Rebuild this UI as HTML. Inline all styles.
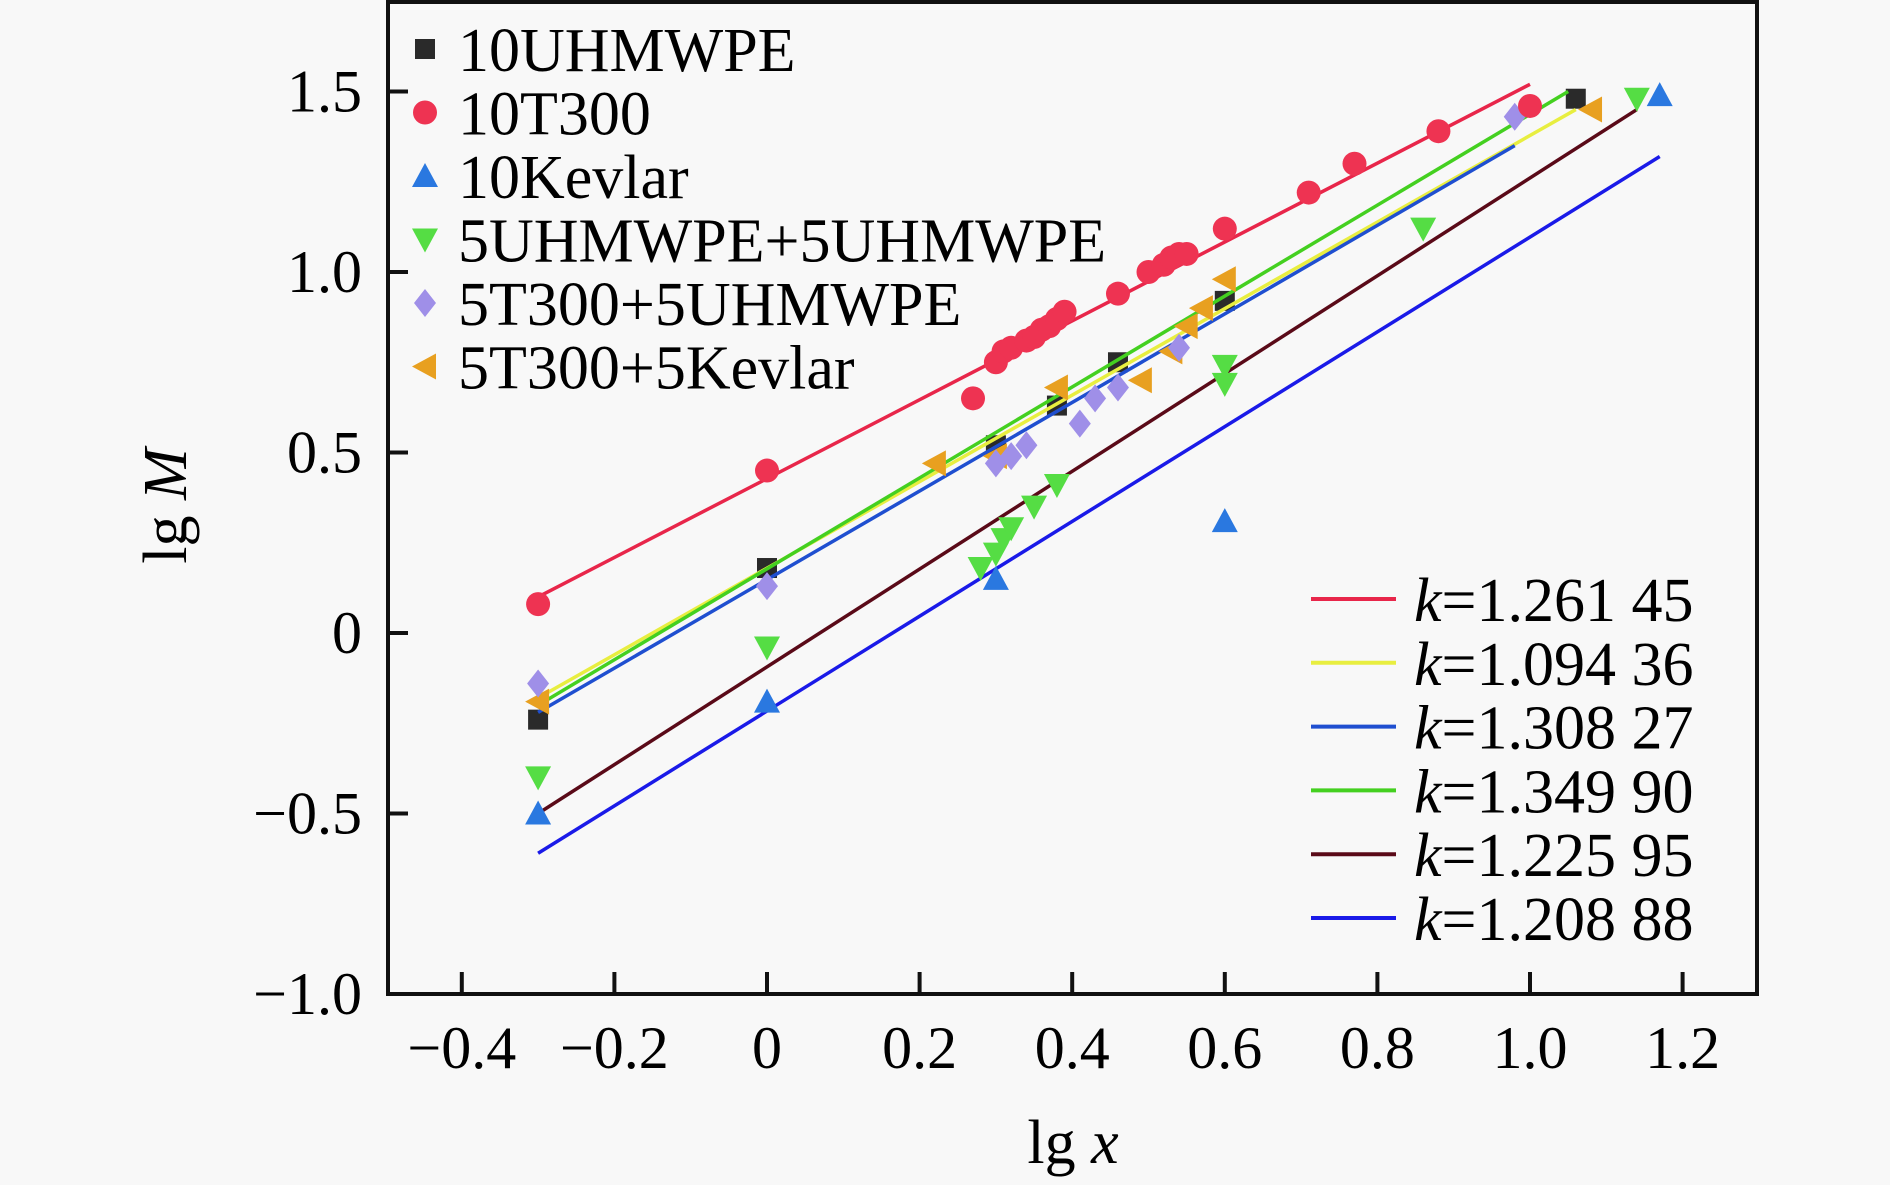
<!DOCTYPE html>
<html><head><meta charset="utf-8"><style>
html,body{margin:0;padding:0;background:#f8f8f8;}
svg{display:block;font-family:"Liberation Serif",serif;}
</style></head><body>
<svg id="chart" width="1890" height="1185" viewBox="0 0 1890 1185" xmlns="http://www.w3.org/2000/svg">
<rect x="0" y="0" width="1890" height="1185" fill="#f8f8f8"/>
<g id="plot"></g>
<rect x="388" y="2" width="1369" height="992" fill="none" stroke="#111" stroke-width="4"/>
<g id="axes"></g>
<text x="1073" y="1163" font-size="62" text-anchor="middle">lg <tspan font-style="italic">x</tspan></text>
<text transform="translate(186,506) rotate(-90)" font-size="62" text-anchor="middle">lg <tspan font-style="italic">M</tspan></text>
<g id="legend"></g>
<g id="klegend"></g>
</svg>
<script>
const xTicks = [-0.4,-0.2,0,0.2,0.4,0.6,0.8,1.0,1.2];
const xTickLabels = ["\u22120.4","\u22120.2","0","0.2","0.4","0.6","0.8","1.0","1.2"];
const yTicks = [-1.0,-0.5,0,0.5,1.0,1.5];
const yTickLabels = ["\u22121.0","\u22120.5","0","0.5","1.0","1.5"];
const seriesNames = ["10UHMWPE","10T300","10Kevlar","5UHMWPE+5UHMWPE","5T300+5UHMWPE","5T300+5Kevlar"];
const s0x=[-0.3,0,0.3,0.38,0.46,0.6,1.06];
const s0y=[-0.24,0.18,0.52,0.63,0.75,0.92,1.48];
const s1x=[-0.3,0,0.27,0.3,0.31,0.32,0.34,0.35,0.36,0.37,0.38,0.39,0.46,0.5,0.52,0.53,0.54,0.55,0.6,0.71,0.77,0.88,1.0];
const s1y=[0.08,0.45,0.65,0.75,0.78,0.79,0.81,0.82,0.84,0.85,0.87,0.89,0.94,1.0,1.02,1.04,1.05,1.05,1.12,1.22,1.3,1.39,1.46];
const s2x=[-0.3,0,0.3,0.6,1.17];
const s2y=[-0.5,-0.19,0.15,0.31,1.49];
const s3x=[-0.3,0,0.28,0.3,0.31,0.32,0.35,0.38,0.6,0.6,0.86,1.14];
const s3y=[-0.4,-0.04,0.18,0.22,0.26,0.29,0.35,0.41,0.74,0.69,1.12,1.48];
const s4x=[-0.3,0,0.3,0.32,0.34,0.41,0.43,0.46,0.54,0.98];
const s4y=[-0.14,0.13,0.47,0.49,0.52,0.58,0.65,0.68,0.79,1.43];
const s5x=[-0.3,0.22,0.3,0.38,0.49,0.53,0.55,0.57,0.6,1.08];
const s5y=[-0.19,0.47,0.49,0.68,0.7,0.78,0.85,0.9,0.98,1.45];
const fitLabels=["1.261 45","1.094 36","1.308 27","1.349 90","1.225 95","1.208 88"];
const fitX0=[-0.3,-0.3,-0.3,-0.3,-0.3,-0.3];
const fitY0=[0.1,-0.18,-0.22,-0.2,-0.5,-0.61];
const fitX1=[1.0,1.06,0.98,1.05,1.14,1.17];
const fitY1=[1.52,1.45,1.35,1.5,1.45,1.32];

const NS="http://www.w3.org/2000/svg";
const X=v=>767+v*763;
const Y=v=>994-(v+1)*361;
function mk(tag,attrs,parent){const e=document.createElementNS(NS,tag);for(const k in attrs)e.setAttribute(k,attrs[k]);parent.appendChild(e);return e;}
const axes=document.getElementById('axes'), plot=document.getElementById('plot');
xTicks.forEach((t,i)=>{
  const l=mk('line',{x1:X(t),x2:X(t),y1:994,y2:972,stroke:'#111','stroke-width':4},axes);
  
  
  const tx=mk('text',{x:X(t),y:1068,'font-size':60,'text-anchor':'middle'},axes);
  tx.textContent=xTickLabels[i];
  
  
});
yTicks.forEach((t,i)=>{
  const l=mk('line',{x1:388,x2:408,y1:Y(t),y2:Y(t),stroke:'#111','stroke-width':4},axes);
  
  
  const tx=mk('text',{x:362,y:Y(t)+20,'font-size':60,'text-anchor':'end'},axes);
  tx.textContent=yTickLabels[i];
  
  
});
const lineColors=['#e8264a','#e8ee40','#1f4fd0','#44d020','#5a0a18','#1a1ae8'];
const mColors=['#2a2a2a','#ee3352','#2a78e0','#55dd44','#9f8fe8','#e8a020'];
function marker(type,cx,cy,c,parent,r){
  r=r||11;let e;
  if(type==0) e=mk('rect',{x:cx-r+1,y:cy-r+1,width:2*r-2,height:2*r-2,fill:c},parent);
  else if(type==1) e=mk('circle',{cx:cx,cy:cy,r:r+1,fill:c},parent);
  else if(type==2) e=mk('polygon',{points:`${cx},${cy-r-2} ${cx+r+2},${cy+r} ${cx-r-2},${cy+r}`,fill:c},parent);
  else if(type==3) e=mk('polygon',{points:`${cx},${cy+r+2} ${cx+r+2},${cy-r} ${cx-r-2},${cy-r}`,fill:c},parent);
  else if(type==4) e=mk('polygon',{points:`${cx},${cy-r-3} ${cx+r},${cy} ${cx},${cy+r+3} ${cx-r},${cy}`,fill:c},parent);
  else e=mk('polygon',{points:`${cx-r-2},${cy} ${cx+r},${cy-r-2} ${cx+r},${cy+r+2}`,fill:c},parent);
  return e;
}
const SX=[s0x,s1x,s2x,s3x,s4x,s5x], SY=[s0y,s1y,s2y,s3y,s4y,s5y];
SX[0].forEach((v,j)=>{
  const e=marker(0,X(v),Y(SY[0][j]),mColors[0],plot);
  
  
});
fitLabels.forEach((k,i)=>{
  const l=mk('line',{x1:X(fitX0[i]),y1:Y(fitY0[i]),x2:X(fitX1[i]),y2:Y(fitY1[i]),stroke:lineColors[i],'stroke-width':3.5},plot);
  
  
});
[5,4,3,2,1].forEach(s=>{
  SX[s].forEach((v,j)=>{
    const e=marker(s,X(v),Y(SY[s][j]),mColors[s],plot);
    
    
  });
});
const leg=document.getElementById('legend');
seriesNames.forEach((n,i)=>{
  const cy=49+i*63.5;
  const m=marker(i,425,cy,mColors[i],leg,11);
  
  
  const t=mk('text',{x:458,y:cy+22,'font-size':62},leg);
  t.textContent=n;
  
  
});
const kl=document.getElementById('klegend');
fitLabels.forEach((k,i)=>{
  const cy=599+i*63.8;
  const l=mk('line',{x1:1311,x2:1396,y1:cy,y2:cy,stroke:lineColors[i],'stroke-width':4},kl);
  
  
  const t=mk('text',{x:1414,y:cy+22,'font-size':62},kl);
  t.innerHTML='<tspan font-style="italic">k</tspan>='+k;
  
  
});
</script>
</body></html>
